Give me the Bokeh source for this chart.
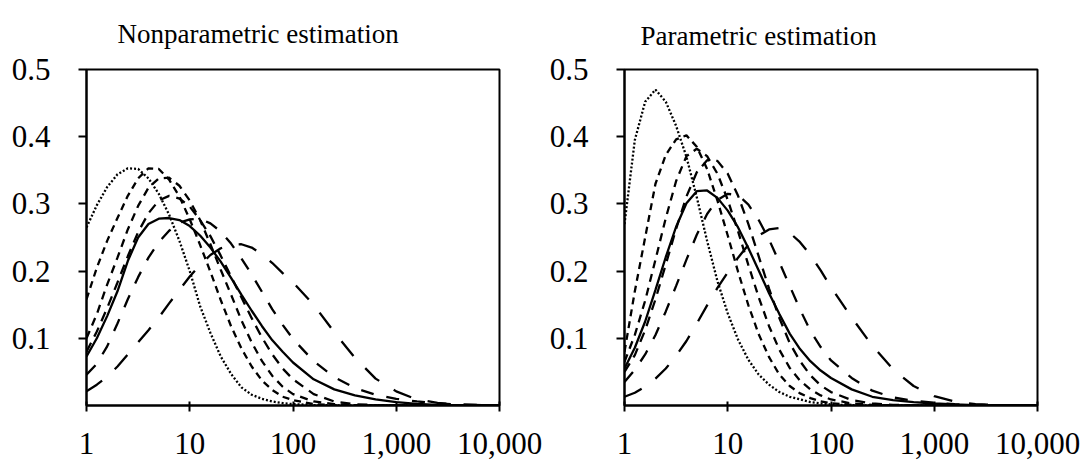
from bokeh.plotting import figure
from bokeh.layouts import row
from bokeh.models import FixedTicker
from bokeh.embed import file_html
from bokeh.resources import INLINE

# ---- data ----
x_vals = [1, 1.259, 1.585, 1.995, 2.512, 3.162, 3.981, 5.012, 6.310, 7.943,
          10, 12.59, 15.85, 19.95, 25.12, 31.62, 39.81, 50.12, 63.10, 79.43,
          100, 158.5, 251.2, 398.1, 631.0, 1000, 1585, 2512, 3981, 10000]

x_ticks = [1, 10, 100, 1000, 10000]
x_tick_labels = ["1", "10", "100", "1,000", "10,000"]
y_ticks = [0.1, 0.2, 0.3, 0.4, 0.5]
y_tick_labels = ["0.1", "0.2", "0.3", "0.4", "0.5"]

titles = ["Nonparametric estimation", "Parametric estimation"]

# Nonparametric estimation panel
np_dotted = [.265, .298, .325, .344, .353, .352, .338, .315, .284, .245,
             .200, .148, .108, .073, .047, .027, .016, .010, .006, .0035,
             .002, .0007, .0002, 0, 0, 0, 0, 0, 0, 0]
np_dash1 = [.158, .205, .245, .279, .312, .338, .353, .352, .336, .311,
            .277, .239, .199, .157, .118, .085, .058, .037, .023, .013,
            .008, .002, .0005, 0, 0, 0, 0, 0, 0, 0]
np_dash2 = [.100, .136, .180, .220, .262, .297, .324, .338, .339, .327,
            .305, .276, .240, .202, .165, .127, .094, .066, .044, .028,
            .017, .006, .002, .0005, 0, 0, 0, 0, 0, 0]
np_dash3 = [.080, .110, .145, .183, .222, .258, .286, .305, .312, .308,
            .296, .276, .252, .223, .192, .161, .130, .101, .076, .055,
            .039, .017, .006, .002, .0005, 0, 0, 0, 0, 0]
np_solid = [.073, .100, .133, .170, .215, .250, .270, .278, .279, .276,
            .267, .253, .235, .214, .190, .165, .141, .118, .097, .080,
            .064, .039, .024, .015, .009, .005, .0025, .001, .0004, 0]
np_dash4 = [.046, .062, .088, .122, .158, .191, .220, .243, .260, .272,
            .277, .278, .271, .259, .241, .219, .195, .169, .143, .120,
            .099, .066, .042, .026, .016, .010, .006, .003, .0015, 0]
np_dash5 = [.021, .031, .043, .058, .076, .094, .112, .131, .152, .172,
            .192, .209, .224, .234, .239, .240, .235, .225, .212, .197,
            .183, .150, .109, .071, .040, .021, .009, .004, .0015, 0]

# Parametric estimation panel
p_dotted = [.270, .395, .452, .470, .452, .416, .370, .310, .245, .185,
            .137, .098, .068, .046, .031, .020, .013, .009, .005, .003,
            .0015, .0005, .0001, 0, 0, 0, 0, 0, 0, 0]
p_dash1 = [.080, .170, .250, .330, .373, .396, .402, .385, .352, .305,
           .253, .199, .149, .106, .072, .046, .029, .018, .011, .006,
           .0035, .001, .0003, 0, 0, 0, 0, 0, 0, 0]
p_dash2 = [.065, .105, .156, .217, .279, .334, .371, .382, .371, .345,
           .306, .259, .209, .161, .118, .083, .056, .037, .024, .015,
           .009, .003, .001, .0003, 0, 0, 0, 0, 0, 0]
p_dash3 = [.050, .075, .112, .158, .210, .263, .311, .347, .365, .364,
           .345, .312, .270, .222, .174, .130, .093, .066, .045, .030,
           .020, .008, .003, .001, 0, 0, 0, 0, 0, 0]
p_solid = [.055, .086, .125, .172, .221, .266, .301, .319, .320, .309,
           .290, .265, .234, .201, .167, .136, .107, .084, .066, .052,
           .041, .024, .013, .008, .005, .003, .0015, .0007, .0003, 0]
p_dash4 = [.035, .053, .076, .105, .140, .178, .217, .254, .285, .306,
           .315, .313, .299, .276, .247, .213, .178, .143, .111, .087,
           .067, .041, .022, .012, .007, .004, .002, .001, .0004, 0]
p_dash5 = [.013, .019, .028, .040, .055, .074, .096, .122, .149, .175,
           .198, .220, .239, .253, .262, .264, .257, .243, .224, .201,
           .176, .131, .089, .054, .029, .014, .006, .002, .0008, 0]

dash_styles = ["2 2", "7 5", "8 6", "10 7", "solid", "13 13", "19 17"]

FONT = "Liberation Serif"


def make_panel(title, series, left, right, t_offset, t_standoff):
    p = figure(x_axis_type="log", x_range=(1, 10000), y_range=(0, 0.5),
               frame_width=413, frame_height=336,
               min_border_left=left, min_border_right=right,
               min_border_top=69, min_border_bottom=70,
               output_backend="svg", toolbar_location=None,
               background_fill_color="white", border_fill_color="white",
               title=title)
    p.title.align = "left"
    p.title.vertical_align = "top"
    p.title.offset = t_offset
    p.title.standoff = t_standoff
    p.title.text_font = FONT
    p.title.text_font_size = "27px"
    p.title.text_font_style = "normal"
    p.title.text_color = "black"

    p.xgrid.visible = False
    p.ygrid.visible = False
    p.outline_line_color = "black"
    p.outline_line_width = 2

    p.xaxis.ticker = FixedTicker(ticks=x_ticks, minor_ticks=[])
    p.xaxis.major_label_overrides = dict(zip(x_ticks, x_tick_labels))
    p.yaxis.ticker = FixedTicker(ticks=y_ticks, minor_ticks=[])
    p.yaxis.major_label_overrides = dict(zip(y_ticks, y_tick_labels))

    for ax in (p.xaxis[0], p.yaxis[0]):
        ax.axis_line_color = "black"
        ax.axis_line_width = 2
        ax.major_tick_line_color = "black"
        ax.major_tick_line_width = 2
        ax.minor_tick_line_color = None
        ax.major_label_text_font = FONT
        ax.major_label_text_font_size = "31px"
        ax.major_label_text_color = "black"
    p.xaxis.major_tick_in = 4
    p.xaxis.major_tick_out = 6
    p.xaxis.major_label_standoff = 21
    p.yaxis.major_tick_in = 0
    p.yaxis.major_tick_out = 8
    p.yaxis.major_label_standoff = 28

    for ys, dash in zip(series, dash_styles):
        p.line(x_vals, ys, line_color="black", line_width=2.3, line_dash=dash)
    return p


p1 = make_panel(titles[0], [np_dotted, np_dash1, np_dash2, np_dash3, np_solid, np_dash4, np_dash5],
                86, 45, 31, 37)
p2 = make_panel(titles[1], [p_dotted, p_dash1, p_dash2, p_dash3, p_solid, p_dash4, p_dash5],
                80, 55, 16, 34)

layout = row(p1, p2)
open("out.html", "w").write(file_html(layout, INLINE))
